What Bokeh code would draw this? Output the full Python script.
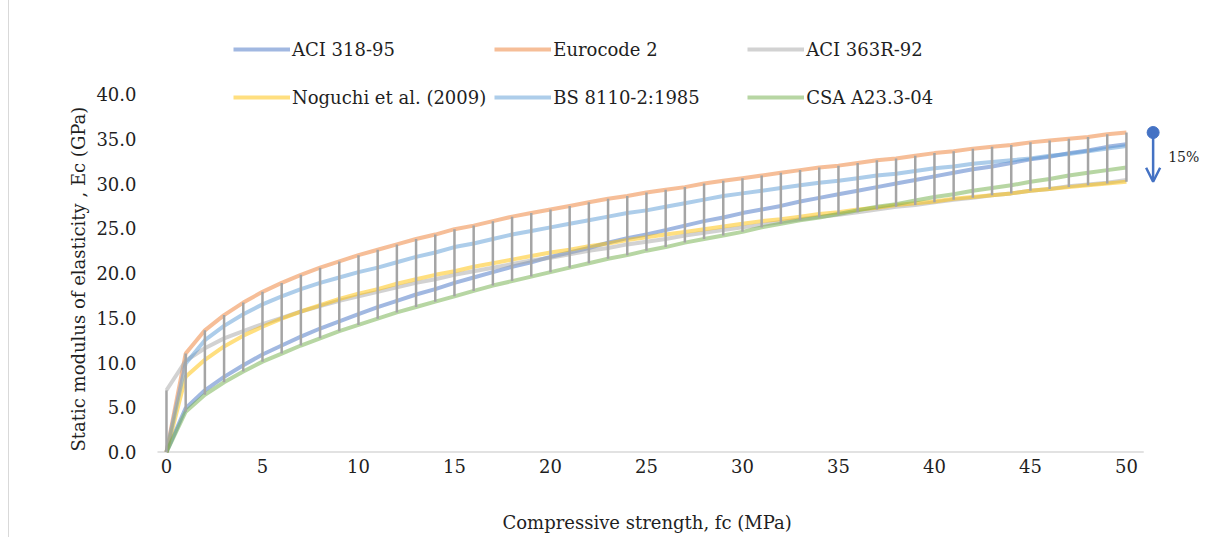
import math
from bokeh.plotting import figure
from bokeh.models import (Range1d, FixedTicker, Legend, LegendItem, Label, Arrow, Title,
                          OpenHead, NumeralTickFormatter)
from bokeh.embed import file_html
from bokeh.resources import INLINE

fc = list(range(51))
aci318 = [0, 4.9, 6.9, 8.4, 9.7, 10.9, 11.9, 12.9, 13.8, 14.6, 15.4, 16.2, 16.9, 17.6, 18.2, 18.9,
          19.5, 20.1, 20.7, 21.2, 21.8, 22.3, 22.8, 23.4, 23.9, 24.3, 24.8, 25.3, 25.8, 26.2, 26.7,
          27.1, 27.5, 28.0, 28.4, 28.8, 29.2, 29.6, 30.0, 30.4, 30.8, 31.2, 31.6, 31.9, 32.3, 32.7,
          33.0, 33.4, 33.7, 34.1, 34.4]
eurocode2 = [0, 11.0, 13.6, 15.3, 16.7, 17.9, 18.9, 19.8, 20.6, 21.3, 22.0, 22.6, 23.2, 23.8, 24.3,
             24.9, 25.3, 25.8, 26.3, 26.7, 27.1, 27.5, 27.9, 28.3, 28.6, 29.0, 29.3, 29.6, 30.0, 30.3,
             30.6, 30.9, 31.2, 31.5, 31.8, 32.0, 32.3, 32.6, 32.8, 33.1, 33.4, 33.6, 33.9, 34.1, 34.3,
             34.6, 34.8, 35.0, 35.2, 35.5, 35.7]
aci363 = [6.9, 10.2, 11.6, 12.7, 13.5, 14.3, 15.0, 15.7, 16.3, 16.9, 17.4, 17.9, 18.4, 18.9, 19.3,
          19.8, 20.2, 20.6, 21.0, 21.4, 21.7, 22.1, 22.5, 22.8, 23.2, 23.5, 23.8, 24.2, 24.5, 24.8,
          25.1, 25.4, 25.7, 26.0, 26.3, 26.5, 26.8, 27.1, 27.4, 27.6, 27.9, 28.2, 28.4, 28.7, 28.9,
          29.2, 29.4, 29.7, 29.9, 30.1, 30.4]
noguchi = [0, 8.4, 10.3, 11.8, 13.0, 14.0, 14.9, 15.7, 16.4, 17.1, 17.7, 18.2, 18.8, 19.3, 19.8,
           20.2, 20.7, 21.1, 21.5, 21.9, 22.3, 22.6, 23.0, 23.3, 23.7, 24.0, 24.3, 24.6, 24.9, 25.2,
           25.5, 25.8, 26.0, 26.3, 26.6, 26.8, 27.1, 27.3, 27.6, 27.8, 28.0, 28.3, 28.5, 28.7, 28.9,
           29.2, 29.4, 29.6, 29.8, 30.0, 30.2]
bs8110 = [0, 9.9, 12.5, 14.1, 15.4, 16.5, 17.4, 18.2, 18.9, 19.5, 20.1, 20.6, 21.2, 21.8, 22.3,
          22.9, 23.3, 23.8, 24.3, 24.7, 25.1, 25.5, 25.9, 26.3, 26.7, 27.0, 27.4, 27.8, 28.2, 28.6,
          28.9, 29.2, 29.5, 29.8, 30.1, 30.3, 30.6, 30.9, 31.1, 31.4, 31.7, 31.9, 32.2, 32.4, 32.6,
          32.8, 33.1, 33.3, 33.6, 33.9, 34.2]
csa = [0, 4.5, 6.4, 7.8, 9.0, 10.1, 11.0, 11.9, 12.7, 13.5, 14.2, 14.9, 15.6, 16.2, 16.8, 17.4,
       18.0, 18.6, 19.1, 19.6, 20.1, 20.6, 21.1, 21.6, 22.0, 22.5, 22.9, 23.4, 23.8, 24.2, 24.6,
       25.1, 25.5, 25.9, 26.2, 26.6, 27.0, 27.4, 27.7, 28.1, 28.5, 28.8, 29.2, 29.5, 29.8, 30.2,
       30.5, 30.9, 31.2, 31.5, 31.8]

names = ["ACI 318-95", "Eurocode 2", "ACI 363R-92", "Noguchi et al. (2009)", "BS 8110-2:1985", "CSA A23.3-04"]
values = [aci318, eurocode2, aci363, noguchi, bs8110, csa]
colors = ["#4472C4", "#ED7D31", "#A5A5A5", "#FFC000", "#5B9BD5", "#70AD47"]
x_ticks = [0, 5, 10, 15, 20, 25, 30, 35, 40, 45, 50]
y_ticks = [0, 5, 10, 15, 20, 25, 30, 35, 40]
arrow_text = "15%"
x_title = "Compressive strength, fc (MPa)"
y_title = "Static modulus of elasticity , Ec (GPa)"

FONT = "DejaVu Serif"
TXT = "#1f1f1f"

p = figure(width=1206, height=537, output_backend="svg", toolbar_location=None,
           x_range=Range1d(-0.52, 54.17), y_range=Range1d(-0.5, 49.0),
           min_border_left=156, min_border_right=0, min_border_top=13, min_border_bottom=81,
           styles={"background": "linear-gradient(to right, #ffffff 8px, #d9d9d9 8px, #d9d9d9 9px, #ffffff 9px)"})
p.outline_line_color = None
p.grid.visible = False
p.background_fill_color = "white"
p.border_fill_color = None

for ax, ticks in ((p.xaxis[0], x_ticks), (p.yaxis[0], y_ticks)):
    ax.ticker = FixedTicker(ticks=ticks)
    ax.axis_line_color = None
    ax.major_tick_line_color = None
    ax.minor_tick_line_color = None
    ax.major_tick_out = 0
    ax.major_tick_in = 0
    ax.minor_tick_out = 0
    ax.major_label_text_font = FONT
    ax.major_label_text_font_size = "18px"
    ax.major_label_text_color = TXT
p.yaxis[0].formatter = NumeralTickFormatter(format="0.0")
p.yaxis[0].major_label_standoff = 20
p.xaxis[0].major_label_standoff = 2
# blank axis label used only as vertical spacing below the tick labels
p.xaxis[0].axis_label = " "
p.xaxis[0].axis_label_standoff = 8
p.xaxis[0].axis_label_text_font = FONT
p.xaxis[0].axis_label_text_font_size = "18px"

# x axis line
p.segment(x0=[fc[0] - 0.47], y0=[0], x1=[fc[-1] + 0.9], y1=[0], line_color="#D9D9D9", line_width=1.5)

renderers = []
for name, vals, col in zip(names, values, colors):
    r = p.line(fc, vals, line_color=col, line_alpha=0.5, line_width=4)
    renderers.append(r)

lo = [min(v[i] for v in values) for i in range(len(fc))]
hi = [max(v[i] for v in values) for i in range(len(fc))]
p.segment(x0=fc, y0=lo, x1=fc, y1=hi, line_color="#A5A5A5", line_width=2.5)

legend = Legend(items=[LegendItem(label=n, renderers=[r]) for n, r in zip(names, renderers)],
                location=(77, 339), orientation="horizontal", ncols=3)
legend.background_fill_alpha = 0
legend.border_line_alpha = 0
legend.padding = 0
legend.margin = 0
legend.spacing = 8
legend.glyph_width = 57
legend.glyph_height = 40
legend.label_standoff = 2
legend.label_width = 186
legend.label_text_font = FONT
legend.label_text_font_size = "18px"
legend.label_text_color = TXT
p.add_layout(legend)

# arrow callout
xa = fc[-1] + 1.39
top = hi[-1]
bot = lo[-1]
p.add_layout(Arrow(end=OpenHead(size=14, line_color="#4472C4", line_width=2.5),
                   x_start=xa, y_start=top, x_end=xa, y_end=bot,
                   line_color="#4472C4", line_width=2.5))
p.scatter([xa], [top], size=12, color="#4472C4")
p.add_layout(Label(x=xa, y=(top + bot) / 2, x_offset=15, text=arrow_text, text_baseline="middle",
                   text_font=FONT, text_font_size="14px", text_color=TXT))

p.add_layout(Title(text=x_title, align="left", offset=346, standoff=4,
                   text_font=FONT, text_font_size="18px", text_color=TXT,
                   text_font_style="normal"), "below")
p.add_layout(Title(text=y_title, align="left", offset=5, standoff=9,
                   text_font=FONT, text_font_size="18px", text_color=TXT,
                   text_font_style="normal"), "left")

open("out.html", "w").write(file_html(p, INLINE))
